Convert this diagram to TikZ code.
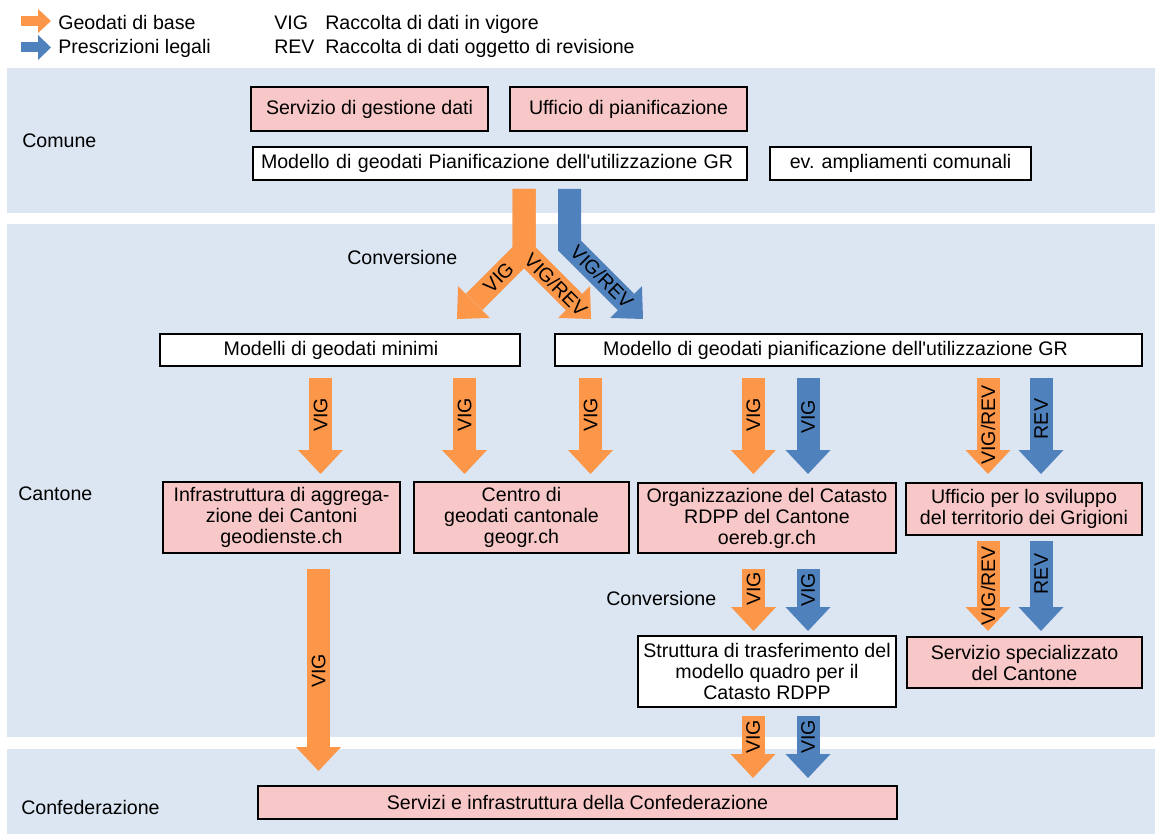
\documentclass[tikz,border=0pt]{standalone}
\usepackage{fontspec}
\setmainfont{Liberation Sans}
\definecolor{bandblue}{RGB}{220,230,242}
\definecolor{geoorange}{RGB}{252,150,72}
\definecolor{legalblue}{RGB}{79,129,189}
\definecolor{boxpink}{RGB}{248,200,200}

\tikzset{
  pinkbox/.style={draw=black, fill=boxpink, line width=1pt, inner sep=0pt, align=center},
  whitebox/.style={draw=black, fill=white, line width=1pt, inner sep=0pt, align=center},
  shaft/.style={line width=17.25pt},
  lbl/.style={inner sep=0pt},
}

% block arrow pointing down: name, colour, x, top, tip, label y, label
\newcommand{\downarr}[7]{%
  \draw[shaft, #2] (#3,#4) -- (#3,#5-23);
  \fill[#2, shift={(#3,#5)}, rotate=90] (0,0) -- (-24,22.5) -- (-24,-22.5) -- cycle;
  \node[lbl, rotate=90] (#1) at (#3,#6) {#7};
}

\begin{document}
\begin{tikzpicture}[x=0.75pt,y=0.75pt,yscale=-1,xscale=1, font=\fontsize{14.7}{15.75}\selectfont]
\useasboundingbox (0,0) rectangle (1155,834);
\fill[white] (0,0) rectangle (1155,834);

%Bands
\fill[bandblue] (7,68) rectangle (1155,213);
\fill[bandblue] (7,224) rectangle (1155,737);
\fill[bandblue] (7,749) rectangle (1155,834);

% Legend
\draw[geoorange, line width=7.5pt] (21,21) -- (39,21);
\fill[geoorange, shift={(51,21)}] (0,0) -- (-13,12) -- (-13,-12) -- cycle;
\draw[legalblue, line width=7.5pt] (21,47.5) -- (39,47.5);
\fill[legalblue, shift={(51,47.5)}] (0,0) -- (-13,12.5) -- (-13,-12.5) -- cycle;
\node[lbl, anchor=base west] (leggeo) at (58,30) {Geodati di base};
\node[lbl, anchor=base west] (leglegal) at (58,54) {Prescrizioni legali};
\node[lbl, anchor=base west] (legvig) at (274,30) {VIG};
\node[lbl, anchor=base west] (legvigtxt) at (325,30) {Raccolta di dati in vigore};
\node[lbl, anchor=base west] (legrev) at (274,54) {REV};
\node[lbl, anchor=base west] (legrevtxt) at (325,54) {Raccolta di dati oggetto di revisione};

% Level labels
\node[lbl, anchor=base west] (comune) at (22,148) {Comune};
\node[lbl, anchor=base west] (cantone) at (18,500) {Cantone};
\node[lbl, anchor=base west] (confed) at (21,814) {Confederazione};
\node[lbl, anchor=base west] (conv1) at (347,264) {Conversione};
\node[lbl, anchor=base west] (conv2) at (606,605) {Conversione};

% Comune
\node[pinkbox, minimum width=177.75pt, minimum height=33pt] (servgest) at (369.5,109) {Servizio di gestione dati};
\node[pinkbox, minimum width=177.75pt, minimum height=33pt] (uffpian) at (628.5,109) {Ufficio di pianificazione};
\node[whitebox, minimum width=370.5pt, minimum height=24.75pt, text width=358.5pt, align=left] (modcom) at (500,163.5) {Modello di geodati Pianificazione dell\textquotesingle utilizzazione GR};
\node[whitebox, minimum width=195.75pt, minimum height=24.75pt] (ampl) at (900.5,163.5) {ev. ampliamenti comunali};

% Conversion arrows
\draw[shaft, geoorange, line join=miter] (524,189) -- (524,252) -- (474,302);
\draw[shaft, geoorange, line join=miter] (524,189) -- (524,252) -- (574,302);
\fill[geoorange, shift={(457,319)}, rotate=135] (0,0) -- (-24,22.5) -- (-24,-22.5) -- cycle;
\fill[geoorange, shift={(591,319)}, rotate=45] (0,0) -- (-24,22.5) -- (-24,-22.5) -- cycle;
\draw[shaft, legalblue, line join=miter] (569.5,189) -- (569.5,245.5) -- (626,302);
\fill[legalblue, shift={(643,319)}, rotate=45] (0,0) -- (-24,22.5) -- (-24,-22.5) -- cycle;
\node[lbl, rotate=45] (convvig) at (498.5,277.5) {VIG};
\node[lbl, rotate=-45] (convvigrev) at (556,285) {VIG/REV};
\node[lbl, rotate=-45] (convblue) at (602,277) {VIG/REV};

% Cantone
\node[whitebox, minimum width=270pt, minimum height=24pt] (minimi) at (340,350) {Modelli di geodati minimi\hspace*{13.5pt}};
\node[whitebox, minimum width=440.25pt, minimum height=24pt] (modcant) at (848.5,350) {Modello di geodati pianificazione dell\textquotesingle utilizzazione GR\hspace*{19.5pt}};

\downarr{a1}{geoorange}{320.5}{378}{474}{415}{VIG}
\downarr{a2}{geoorange}{464.5}{378}{474}{415}{VIG}
\downarr{a3}{geoorange}{590.5}{378}{474}{415}{VIG}
\downarr{a4}{geoorange}{753.4}{378}{474}{415}{VIG}
\downarr{a5}{legalblue}{808}{378}{474}{417}{VIG}
\downarr{a6}{geoorange}{988}{378}{474}{425}{VIG/REV}
\downarr{a7}{legalblue}{1041}{378}{474}{419}{REV}

\node[pinkbox, minimum width=177.75pt, minimum height=53.25pt] (infra) at (281.5,517.5) {Infrastruttura di aggrega-\\zione dei Cantoni\\geodienste.ch};
\node[pinkbox, minimum width=161.25pt, minimum height=53.25pt] (centro) at (521.5,517.5) {Centro di\\geodati cantonale\\geogr.ch};
\node[pinkbox, minimum width=193.5pt, minimum height=52.5pt] (oereb) at (767,518) {Organizzazione del Catasto\\RDPP del Cantone\\oereb.gr.ch};
\node[pinkbox, minimum width=177pt, minimum height=39pt] (uffsvil) at (1024,509) {Ufficio per lo sviluppo\\del territorio dei Grigioni};

\downarr{b1}{geoorange}{753.5}{569}{631}{589}{VIG}
\downarr{b2}{legalblue}{808}{569}{631}{590}{VIG}
\downarr{b3}{geoorange}{988}{541}{631}{586}{VIG/REV}
\downarr{b4}{legalblue}{1041}{541}{631}{574}{REV}

\node[whitebox, minimum width=193.5pt, minimum height=53.25pt] (struttura) at (767,671.5) {Struttura di trasferimento del\\modello quadro per il\\Catasto RDPP};
\node[pinkbox, minimum width=176.25pt, minimum height=38.25pt] (servspec) at (1024.5,662.5) {Servizio specializzato\\del Cantone};

\downarr{c0}{geoorange}{318.5}{569}{771}{671}{VIG}
\downarr{c1}{geoorange}{753}{716}{778}{737}{VIG}
\downarr{c2}{legalblue}{808}{716}{778}{737}{VIG}

% Confederazione
\node[pinkbox, minimum width=479.25pt, minimum height=24.75pt] (confbox) at (577.5,802.5) {Servizi e infrastruttura della Confederazione};

\end{tikzpicture}
\end{document}
